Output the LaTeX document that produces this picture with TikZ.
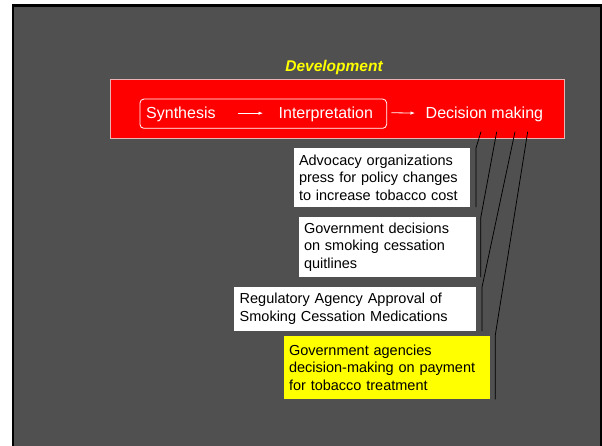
\documentclass[tikz,border=0pt]{standalone}
\usepackage{fontspec}
\setmainfont{Liberation Sans}
\usetikzlibrary{arrows.meta}
\definecolor{bg}{RGB}{80,80,80}
\definecolor{redbox}{RGB}{255,0,0}
\definecolor{ylw}{RGB}{255,255,0}
\definecolor{redline}{RGB}{235,180,180}
\begin{document}
\begin{tikzpicture}[x=1pt,y=-1pt,
  card/.style={fill=white, anchor=north west, inner xsep=5.5pt, inner ysep=0pt, align=left,
    font=\fontsize{14.5}{17.3}\selectfont},
  rtext/.style={text=white, anchor=base west, inner sep=0pt, font=\fontsize{16}{19}\selectfont,
    text height=11.6pt, text depth=3.4pt},
  link/.style={black, line width=0.75pt},
  flow/.style={white, line width=0.8pt, -{Latex[length=4.5pt,width=3.5pt]}}]
\useasboundingbox (0,0) rectangle (602,446);
\fill[white] (0,0) rectangle (602,446);
\fill[black] (11.7,4.3) rectangle (602,446);
\fill[bg] (14.3,7.5) rectangle (600,446);

\node[font=\fontsize{15.5}{18}\selectfont\bfseries\itshape, text=ylw, anchor=base, inner sep=0pt] (dev) at (334,71.7) {Development};
\node[draw=redline, line width=0.7pt, fill=redbox, anchor=north west, minimum width=454pt, minimum height=58.7pt, inner sep=0pt] (band) at (110,79.3) {};
\node[draw=white, line width=0.8pt, rounded corners=4pt, minimum width=246.7pt, minimum height=29.3pt, inner sep=0pt] (grp) at (263.3,113.7) {};
\node[rtext] (syn) at (146,118.3) {Synthesis};
\node[rtext] (int) at (278.5,118.3) {Interpretation};
\node[rtext] (dec) at (425.5,118.3) {Decision making};
\draw[flow, shorten <=22.6pt, shorten >=15.5pt] ([yshift=1pt]syn.east) -- ([yshift=1pt]int.west);
\draw[flow, shorten <=4.3pt, shorten >=10.5pt] ([yshift=1pt]grp.east) -- ([yshift=1pt]dec.west);

\node[card, minimum height=58.4pt, text width=165.7pt] (b1) at (293.3,148.3)
  {Advocacy organizations\\press for policy changes\\to increase tobacco cost};
\node[card, minimum height=59.4pt, text width=166.4pt] (b2) at (298.3,217.3)
  {Government decisions\\on smoking cessation\\quitlines};
\node[card, minimum height=44pt, text width=230.7pt] (b3) at (234,286.7)
  {Regulatory Agency Approval of\\Smoking Cessation Medications};
\node[card, fill=ylw, minimum height=63.3pt, text width=195.7pt] (b4) at (283.3,335.7)
  {Government agencies\\decision-making on payment\\for tobacco treatment};

\coordinate (k1) at (481,131.7);
\coordinate (k2) at (496.7,131.7);
\coordinate (k3) at (515,131.7);
\coordinate (k4) at (527.7,131.7);
\draw[link] (k1) -- ([xshift=5.5pt]b1.north east) -- ([xshift=5.5pt]b1.south east);
\draw[link] (k2) -- ([xshift=4.7pt]b2.north east) -- ([xshift=4.7pt]b2.south east);
\draw[link] (k3) -- ([xshift=6pt]b3.north east) -- ([xshift=6pt]b3.south east);
\draw[link] (k4) -- ([xshift=4.8pt]b4.north east) -- ([xshift=4.8pt]b4.south east);
\end{tikzpicture}
\end{document}
